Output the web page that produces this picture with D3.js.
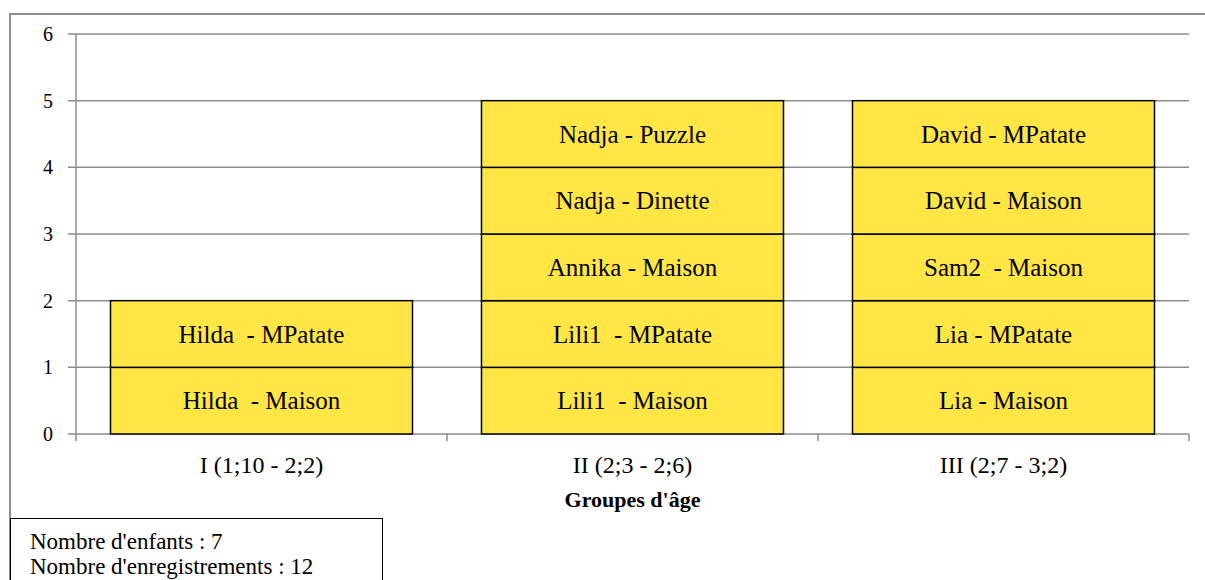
<!DOCTYPE html>
<html>
<head>
<meta charset="utf-8">
<script src="https://cdn.jsdelivr.net/npm/d3@7"></script>
<style>
  body { margin: 0; background: #fff; }
  svg { display: block; font-family: "Liberation Serif", "DejaVu Serif", serif; }
</style>
</head>
<body>
<div class="chart"></div>
<script>
// groupes d'age (x)
var groupes = ["I (1;10 - 2;2)", "II (2;3 - 2;6)", "III (2;7 - 3;2)"];
// enregistrements par groupe, du bas vers le haut
var enregI = ["Hilda  - Maison", "Hilda  - MPatate"];
var enregII = ["Lili1  - Maison", "Lili1  - MPatate", "Annika - Maison", "Nadja - Dinette", "Nadja - Puzzle"];
var enregIII = ["Lia - Maison", "Lia - MPatate", "Sam2  - Maison", "David - Maison", "David - MPatate"];
var yTicks = [0, 1, 2, 3, 4, 5, 6];
var infos = ["Nombre d'enfants : 7", "Nombre d'enregistrements : 12"];

var width = 1205, height = 580;
var margin = {left: 76, right: 16, top: 34, bottom: 146};

var svg = d3.select(".chart").append("svg")
  .attr("width", width)
  .attr("height", height);

// cadre exterieur
svg.append("rect")
  .attr("x", 10).attr("y", 14)
  .attr("width", 1220).attr("height", 600)
  .attr("fill", "none")
  .attr("stroke", "#8c8c8c")
  .attr("stroke-width", 2);

var x = d3.scaleBand()
  .domain(groupes)
  .range([margin.left, width - margin.right])
  .paddingInner(0.186)
  .paddingOuter(0.093);

var y = d3.scaleLinear()
  .domain([0, 6])
  .range([height - margin.bottom, margin.top]);

// lignes de grille
svg.append("g")
  .selectAll("line")
  .data(yTicks)
  .enter().append("line")
  .attr("x1", margin.left - 8)
  .attr("x2", width - margin.right)
  .attr("y1", function (d) { return y(d) })
  .attr("y2", function (d) { return y(d) })
  .attr("stroke", "#8c8c8c")
  .attr("stroke-width", 1.5);

// axe vertical
svg.append("line")
  .attr("x1", margin.left).attr("x2", margin.left)
  .attr("y1", y(6)).attr("y2", y(0) + 7)
  .attr("stroke", "#8c8c8c")
  .attr("stroke-width", 1.5);

// graduations de l'axe x (entre les groupes)
var sep = d3.range(1, groupes.length + 1).map(function (i) { return margin.left + i * (width - margin.left - margin.right) / groupes.length });
svg.append("g")
  .selectAll("line")
  .data(sep)
  .enter().append("line")
  .attr("x1", function (d) { return d })
  .attr("x2", function (d) { return d })
  .attr("y1", y(0))
  .attr("y2", y(0) + 7)
  .attr("stroke", "#8c8c8c")
  .attr("stroke-width", 1.5);

// etiquettes y
svg.append("g")
  .selectAll("text")
  .data(yTicks)
  .enter().append("text")
  .attr("x", 53)
  .attr("y", function (d) { return y(d) })
  .attr("dy", "0.35em")
  .attr("text-anchor", "end")
  .attr("font-size", 20)
  .text(function (d) { return d });

// barres empilees
var series = [enregI, enregII, enregIII];
var cells = [];
series.forEach(function (list, gi) {
  list.forEach(function (label, i) {
    cells.push({groupe: groupes[gi], y0: i, y1: i + 1, label: label});
  });
});

var cellG = svg.append("g")
  .selectAll("g")
  .data(cells)
  .enter().append("g");

cellG.append("rect")
  .attr("x", function (d) { return x(d.groupe) })
  .attr("y", function (d) { return y(d.y1) })
  .attr("width", x.bandwidth())
  .attr("height", function (d) { return y(d.y0) - y(d.y1) })
  .attr("fill", "#ffe645")
  .attr("stroke", "#000")
  .attr("stroke-width", 1.5);

cellG.append("text")
  .attr("x", function (d) { return x(d.groupe) + x.bandwidth() / 2 })
  .attr("y", function (d) { return (y(d.y0) + y(d.y1)) / 2 })
  .attr("dy", "0.35em")
  .attr("text-anchor", "middle")
  .attr("font-size", 25)
  .style("white-space", "pre")
  .attr("xml:space", "preserve")
  .text(function (d) { return d.label });

// etiquettes x
svg.append("g")
  .selectAll("text")
  .data(groupes)
  .enter().append("text")
  .attr("x", function (d) { return x(d) + x.bandwidth() / 2 })
  .attr("y", 473)
  .attr("text-anchor", "middle")
  .attr("font-size", 24)
  .text(function (d) { return d });

// titre de l'axe x
svg.append("text")
  .attr("x", (margin.left + width - margin.right) / 2)
  .attr("y", 507)
  .attr("text-anchor", "middle")
  .attr("font-size", 22)
  .attr("font-weight", "bold")
  .text("Groupes d'âge");

// zone de texte
svg.append("rect")
  .attr("x", 10.5).attr("y", 518.5)
  .attr("width", 372).attr("height", 80)
  .attr("fill", "#fff")
  .attr("stroke", "#000")
  .attr("stroke-width", 1);

svg.append("g")
  .selectAll("text")
  .data(infos)
  .enter().append("text")
  .attr("x", 30)
  .attr("y", function (d, i) { return 549 + i * 25 })
  .attr("font-size", 23)
  .text(function (d) { return d });
</script>
</body>
</html>
